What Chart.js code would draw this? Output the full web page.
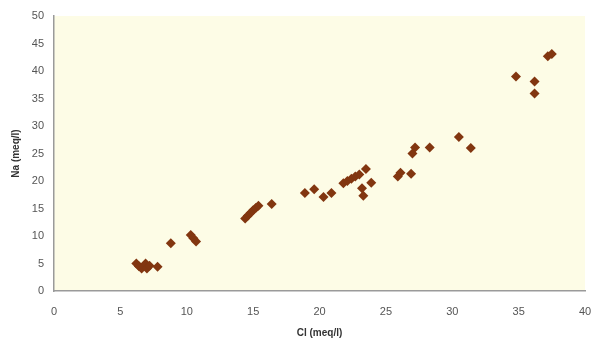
<!DOCTYPE html>
<html>
<head>
<meta charset="utf-8">
<script src="https://cdn.jsdelivr.net/npm/chart.js@4/dist/chart.umd.min.js"></script>
<style>
  html, body { margin: 0; padding: 0; background: #fff; }
  #wrap { width: 591px; height: 343px; }
</style>
</head>
<body>
<div id="wrap"><canvas id="scatter" width="591" height="343"></canvas></div>
<script>
// Cl (meq/l) vs Na (meq/l)
const clValues = [6.2, 6.4, 6.6, 6.9, 7.0, 7.2, 7.8, 8.8, 10.3, 10.5, 10.7,
    14.4, 14.6, 14.8, 15.0, 15.2, 15.4, 16.4, 18.9, 19.6, 20.3, 20.9,
    21.8, 22.1, 22.4, 22.7, 23.0, 23.2, 23.3, 23.5, 23.9,
    25.9, 26.1, 26.9, 27.0, 27.2, 28.3, 30.5, 31.4,
    34.8, 36.2, 36.2, 37.2, 37.5];
const naValues = [5.0, 4.5, 4.1, 5.0, 4.1, 4.6, 4.4, 8.7, 10.2, 9.6, 9.0,
    13.2, 13.7, 14.2, 14.7, 15.1, 15.5, 15.8, 17.8, 18.5, 17.1, 17.8,
    19.6, 20.0, 20.4, 20.8, 21.2, 18.7, 17.3, 22.2, 19.7,
    20.8, 21.5, 21.3, 25.0, 26.1, 26.1, 28.0, 26.0,
    39.0, 38.1, 35.9, 42.7, 43.1];
const xTicks = [0, 5, 10, 15, 20, 25, 30, 35, 40];
const yTicks = [0, 5, 10, 15, 20, 25, 30, 35, 40, 45, 50];

const points = clValues.map((cl, i) => ({ x: cl, y: naValues[i] }));

// cream plot background
const plotBackground = {
    id: 'plotBackground',
    beforeDraw(chart) {
        const { ctx, chartArea: a } = chart;
        ctx.save();
        ctx.fillStyle = '#fdfce6';
        ctx.fillRect(a.left, a.top, a.right - a.left, a.bottom - a.top);
        ctx.restore();
    }
};

const tickFont = { family: 'Liberation Sans, Arial, sans-serif', size: 11 };
const titleFont = { family: 'Liberation Sans, Arial, sans-serif', size: 10, weight: 'bold' };

new Chart(document.getElementById('scatter'), {
    type: 'scatter',
    data: {
        datasets: [{
            data: points,
            pointStyle: 'rectRot',
            pointRadius: 5,
            pointHoverRadius: 5,
            backgroundColor: '#823610',
            borderColor: '#823610',
            borderWidth: 0
        }]
    },
    options: {
        responsive: false,
        animation: false,
        events: [],
        layout: { padding: { top: 16, right: 6, left: 0, bottom: 0 } },
        plugins: {
            legend: { display: false },
            tooltip: { enabled: false }
        },
        scales: {
            x: {
                type: 'linear',
                min: 0,
                max: 40,
                afterBuildTicks: axis => { axis.ticks = xTicks.map(v => ({ value: v })); },
                afterFit: axis => {
                    axis.height = 52;
                    axis.paddingLeft = 0;
                    axis.paddingRight = 0;
                },
                grid: { display: false, drawTicks: false },
                border: { display: true, color: '#9a9a9a', width: 1.5 },
                ticks: { color: '#555', font: tickFont, padding: 14 },
                title: {
                    display: true,
                    text: 'Cl (meq/l)',
                    color: '#333',
                    font: titleFont,
                    padding: { top: 4, bottom: 4 }
                }
            },
            y: {
                type: 'linear',
                min: 0,
                max: 50,
                afterBuildTicks: axis => { axis.ticks = yTicks.map(v => ({ value: v })); },
                afterFit: axis => {
                    axis.width = 54;
                    axis.paddingTop = 0;
                    axis.paddingBottom = 0;
                },
                grid: { display: false, drawTicks: false },
                border: { display: true, color: '#9a9a9a', width: 1.5 },
                ticks: { color: '#555', font: tickFont, padding: 10 },
                title: {
                    display: true,
                    text: 'Na (meq/l)',
                    color: '#333',
                    font: titleFont,
                    padding: { top: 10, bottom: 0 }
                }
            }
        }
    },
    plugins: [plotBackground]
});
</script>
</body>
</html>
